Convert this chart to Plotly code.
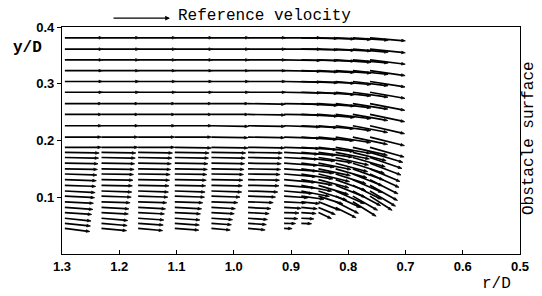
import math
import plotly.graph_objects as go

# ---------------- data ----------------
# measurement columns (r/D) shared by all rows
cols = [1.295, 1.231, 1.167, 1.103, 1.039, 0.975, 0.912, 0.882, 0.852, 0.822, 0.792, 0.762]

# upper (coarse) rows
upper_y = [0.381, 0.361, 0.342, 0.323, 0.304, 0.285, 0.265, 0.246, 0.226, 0.206, 0.188]
# downward inclination of each vector (degrees)
upper_ang = [
    [0, 0, 0, 0, 0, 0, 0, 1, 2, 3, 4, 5],
    [0, 0, 0, 0, 0, 0, 0, 1, 2, 3, 5, 6],
    [0, 0, 0, 0, 0, 0, 1, 1, 2, 4, 5, 7],
    [0, 0, 0, 0, 0, 0, 1, 2, 3, 4, 6, 8],
    [0, 0, 0, 0, 0, 0, 1, 2, 3, 5, 7, 9],
    [0, 0, 0, 0, 0, 0, 1, 2, 4, 6, 8, 10],
    [0, 0, 0, 0, 0, 1, 1, 3, 4, 7, 9, 11],
    [0, 0, 0, 0, 0, 1, 1, 3, 5, 7, 10, 12],
    [0, 0, 0, 0, 1, 1, 2, 3, 5, 8, 11, 13],
    [0, 0, 0, 0, 1, 1, 2, 4, 6, 9, 12, 14],
    [0, 0, 0, 1, 1, 1, 2, 4, 7, 10, 13, 16],
]
# magnitude relative to the reference velocity
upper_spd = [
    [0.66, 0.66, 0.66, 0.66, 0.66, 0.66, 0.64, 0.64, 0.63, 0.62, 0.62, 0.62],
    [0.66, 0.66, 0.66, 0.66, 0.66, 0.66, 0.64, 0.64, 0.63, 0.62, 0.62, 0.62],
    [0.66, 0.66, 0.66, 0.66, 0.66, 0.66, 0.64, 0.64, 0.63, 0.62, 0.62, 0.62],
    [0.66, 0.66, 0.66, 0.66, 0.66, 0.66, 0.64, 0.64, 0.63, 0.62, 0.62, 0.62],
    [0.66, 0.66, 0.66, 0.66, 0.66, 0.66, 0.64, 0.64, 0.63, 0.62, 0.62, 0.62],
    [0.66, 0.66, 0.66, 0.66, 0.66, 0.66, 0.64, 0.64, 0.63, 0.62, 0.62, 0.62],
    [0.65, 0.65, 0.65, 0.65, 0.65, 0.65, 0.64, 0.64, 0.63, 0.62, 0.62, 0.62],
    [0.65, 0.65, 0.65, 0.65, 0.65, 0.65, 0.64, 0.64, 0.63, 0.62, 0.62, 0.62],
    [0.65, 0.65, 0.65, 0.65, 0.65, 0.65, 0.63, 0.63, 0.62, 0.62, 0.62, 0.62],
    [0.64, 0.64, 0.64, 0.64, 0.64, 0.64, 0.63, 0.63, 0.62, 0.62, 0.62, 0.62],
    [0.64, 0.64, 0.64, 0.64, 0.64, 0.64, 0.62, 0.62, 0.62, 0.62, 0.62, 0.62],
]

# lower (fine) rows near the obstacle corner
N = None
lower_y = [0.179, 0.170, 0.160, 0.150, 0.141, 0.131, 0.121, 0.111, 0.102,
           0.092, 0.082, 0.073, 0.063, 0.054, 0.045]
lower_ang = [
    [1, 1, 1, 1, 1, 1, 3, 5, 8, 11, 14, 17],
    [1, 1, 1, 1, 1, 1, 3, 6, 9, 13, 16, 19],
    [1, 1, 1, 1, 1, 1, 4, 7, 11, 15, 18, 21],
    [1, 1, 1, 1, 1, 1, 4, 8, 12, 16, 20, 23],
    [2, 1, 1, 1, 1, 1, 5, 9, 14, 18, 22, 25],
    [2, 1, 1, 1, 1, 1, 5, 10, 15, 20, 24, 27],
    [2, 1, 1, 1, 1, 1, 5, 11, 17, 22, 26, 29],
    [3, 2, 2, 2, 2, 2, 5, 11, 18, 24, 28, 31],
    [3, 2, 2, 2, 2, 2, 4, 8, 18, 25, 30, 33],
    [3, 2, 2, 2, 2, 2, 3, 6, 22, 27, 32, N],
    [4, 3, 3, 3, 3, 3, 3, 5, 23, 27, N, N],
    [4, 3, 3, 3, 3, 3, 2, 4, 25, N, N, N],
    [6, 5, 4, 4, 4, 4, 2, 3, N, N, N, N],
    [6, 5, 4, 4, 4, 4, 1, 2, N, N, N, N],
    [7, 5, 5, 4, 5, 5, 1, N, N, N, N, N],
]
lower_spd = [
    [0.60, 0.60, 0.60, 0.60, 0.60, 0.60, 0.60, 0.60, 0.60, 0.60, 0.60, 0.60],
    [0.59, 0.59, 0.59, 0.59, 0.59, 0.59, 0.59, 0.59, 0.59, 0.59, 0.59, 0.59],
    [0.58, 0.58, 0.58, 0.58, 0.58, 0.58, 0.58, 0.58, 0.58, 0.58, 0.58, 0.58],
    [0.57, 0.57, 0.57, 0.57, 0.57, 0.57, 0.57, 0.57, 0.57, 0.57, 0.57, 0.57],
    [0.56, 0.56, 0.56, 0.56, 0.56, 0.56, 0.56, 0.56, 0.56, 0.56, 0.56, 0.56],
    [0.55, 0.55, 0.55, 0.55, 0.55, 0.55, 0.55, 0.55, 0.55, 0.56, 0.56, 0.55],
    [0.54, 0.54, 0.54, 0.54, 0.54, 0.54, 0.54, 0.54, 0.55, 0.56, 0.56, 0.55],
    [0.53, 0.53, 0.53, 0.53, 0.53, 0.52, 0.50, 0.50, 0.52, 0.55, 0.55, 0.52],
    [0.52, 0.52, 0.52, 0.52, 0.50, 0.48, 0.42, 0.40, 0.45, 0.48, 0.50, 0.46],
    [0.50, 0.50, 0.50, 0.49, 0.46, 0.44, 0.38, 0.32, 0.40, 0.45, 0.48, N],
    [0.49, 0.48, 0.48, 0.47, 0.42, 0.40, 0.30, 0.28, 0.32, 0.40, N, N],
    [0.47, 0.47, 0.46, 0.45, 0.40, 0.37, 0.26, 0.26, 0.25, N, N, N],
    [0.46, 0.46, 0.45, 0.44, 0.37, 0.34, 0.24, 0.22, N, N, N, N],
    [0.45, 0.45, 0.44, 0.43, 0.35, 0.32, 0.20, 0.18, N, N, N, N],
    [0.44, 0.44, 0.43, 0.42, 0.33, 0.30, 0.14, N, N, N, N, N],
]

x_ticks = [1.3, 1.2, 1.1, 1.0, 0.9, 0.8, 0.7, 0.6, 0.5]
y_ticks = [0.1, 0.2, 0.3, 0.4]

# ---------------- vector geometry ----------------
REF = 0.1          # r/D length of the reference-velocity arrow
HEAD_L = 0.0065    # arrow-head length (data units)
HEAD_W = 0.0022    # arrow-head half width

shaft_x, shaft_y, head_x, head_y = [], [], [], []


def add_vectors(ys, angs, spds):
    for yv, arow, srow in zip(ys, angs, spds):
        for xv, a, s in zip(cols, arow, srow):
            if a is None or s is None:
                continue
            L = s * REF
            ux = -math.cos(math.radians(a))
            uy = -math.sin(math.radians(a))
            ex, ey = xv + L * ux, yv + L * uy
            bx, by = ex - HEAD_L * ux, ey - HEAD_L * uy
            px, py = -uy, ux
            shaft_x.extend([xv, bx, None])
            shaft_y.extend([yv, by, None])
            head_x.extend([ex, bx + HEAD_W * px, bx - HEAD_W * px, ex, None])
            head_y.extend([ey, by + HEAD_W * py, by - HEAD_W * py, ey, None])


add_vectors(upper_y, upper_ang, upper_spd)
add_vectors(lower_y, lower_ang, lower_spd)

fig = go.Figure()
fig.add_trace(go.Scatter(x=shaft_x, y=shaft_y, mode="lines",
                         line=dict(color="black", width=1.7),
                         hoverinfo="skip", showlegend=False))
fig.add_trace(go.Scatter(x=head_x, y=head_y, mode="lines", fill="toself",
                         fillcolor="black", line=dict(color="black", width=0.8),
                         hoverinfo="skip", showlegend=False))

mono = "Liberation Mono"
tick_font = dict(family="Liberation Sans", size=13, color="black", weight="bold")

# plot area in window pixels: x 62..517, y 23..253.7 (page body has an 8px margin)
W, H = 534, 288
L_M, R_M, T_M, B_M = 54, 22, 15, 42
pw, ph = W - L_M - R_M, H - T_M - B_M


def px2paper(x, y):
    return (x - 8 - L_M) / pw, (H - B_M - (y - 8)) / ph


def ann(text, x, y, **kw):
    xp, yp = px2paper(x, y)
    d = dict(text=text, x=xp, y=yp, xref="paper", yref="paper",
             xanchor="center", yanchor="middle", showarrow=False)
    d.update(kw)
    return d


ref_head = px2paper(170, 14)

fig.update_layout(
    width=W, height=H,
    margin=dict(l=L_M, r=R_M, t=T_M, b=B_M),
    paper_bgcolor="white", plot_bgcolor="white",
    showlegend=False,
    xaxis=dict(range=[1.3, 0.5], tickvals=x_ticks,
               ticktext=[f"{v:.1f}" for v in x_ticks],
               ticks="inside", ticklen=4, tickcolor="black", tickwidth=1,
               showgrid=False, zeroline=False, showline=True,
               linecolor="black", linewidth=1.3, mirror=True,
               tickfont=tick_font),
    yaxis=dict(range=[0.0, 0.4], tickvals=y_ticks,
               ticktext=[f"{v:.1f}" for v in y_ticks],
               ticks="outside", ticklen=4, tickcolor="black", tickwidth=1,
               showgrid=False, zeroline=False, showline=True,
               linecolor="black", linewidth=1.3, mirror=True,
               tickfont=tick_font),
    annotations=[
        ann("y/D", 27, 44, font=dict(family=mono, size=16, color="black", weight="bold")),
        ann("r/D", 496, 285, font=dict(family=mono, size=16, color="black")),
        ann("Reference velocity", 176, 12, xanchor="left",
            font=dict(family=mono, size=16, color="black")),
        ann("Obstacle surface", 529, 136, textangle=-90,
            font=dict(family=mono, size=16, color="black")),
        dict(text="", x=ref_head[0], y=ref_head[1], xref="paper", yref="paper",
             showarrow=True, ax=-58, ay=0, arrowhead=2, arrowsize=0.8,
             arrowwidth=1.2, arrowcolor="black"),
    ],
)

fig.write_html("out.html")
